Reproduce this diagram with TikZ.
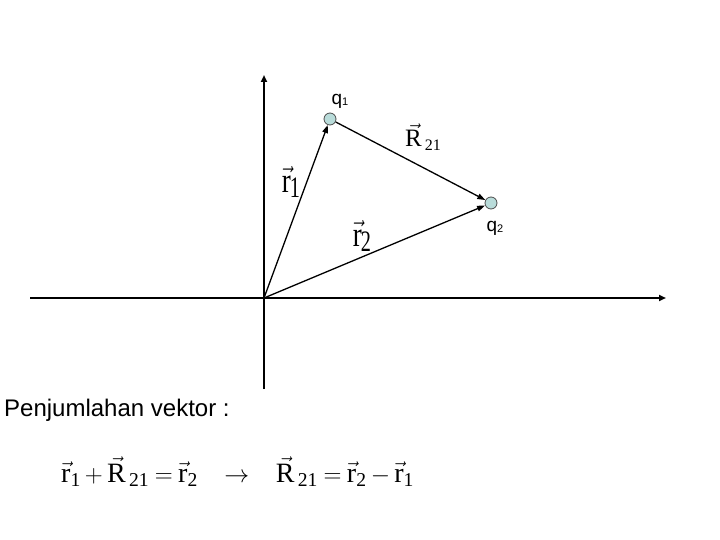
\documentclass[tikz,border=0pt]{standalone}
\usepackage{fontspec}
\setmainfont{Liberation Serif}
\newfontfamily\arialf{Liberation Sans}
\usetikzlibrary{arrows.meta}
\definecolor{chg}{HTML}{B9DCDA}
\begin{document}
\begin{tikzpicture}[x=1pt,y=-1pt,
  axis/.style={line width=2.2pt,-{Triangle[length=7pt,width=6pt]}},
  vecl/.style={line width=1.3pt,-{Triangle[length=8pt,width=5.5pt]}},
  charge/.style={circle,draw=black!70,fill=chg,line width=0.8pt,minimum size=12pt,inner sep=0pt},
  qlab/.style={font=\arialf\fontsize{19}{19}\selectfont,inner sep=0pt},
  vlab/.style={inner sep=0pt,font=\fontsize{27}{27}\selectfont}]
\useasboundingbox (0,0) rectangle (720,540);
\coordinate (O) at (264,298);
\coordinate (xl) at (30,298);
\coordinate (xr) at (666,298);
\coordinate (yb) at (264,389);
\coordinate (yt) at (264,75);
\draw[axis] (xl) -- (xr);
\draw[axis] (yb) -- (yt);
\node[charge] (q1) at (330,119) {};
\node[charge] (q2) at (491,203) {};
\draw[vecl] (O) -- (q1);
\draw[vecl] (O) -- (q2);
\draw[vecl] (q1) -- (q2);
\node[qlab] (lq1) at (340,101) {q\raisebox{-0.1ex}{\fontsize{11}{11}\selectfont 1}};
\node[qlab] (lq2) at (495,228) {q\raisebox{-0.1ex}{\fontsize{11}{11}\selectfont 2}};
\node[vlab] (lr1) at (291,182) {\scalebox{1}[1.3]{$\vec{\mathrm{r}}$}\hspace{-1pt}\raisebox{-5pt}{\scalebox{0.75}[1.1]{1}}};
\node[vlab] (lr2) at (362,236) {\scalebox{1}[1.3]{$\vec{\mathrm{r}}$}\hspace{-1pt}\raisebox{-5pt}{\scalebox{0.75}[1.1]{2}}};
\node[vlab] (lR) at (423,137) {\fontsize{25}{25}\selectfont$\vec{\mathrm{R}}$\hspace{3pt}\raisebox{-4pt}{\fontsize{16}{16}\selectfont 21}};
\node[anchor=west,inner sep=0pt,font=\arialf\fontsize{24}{24}\selectfont] (pj) at (4,410) {Penjumlahan vektor :};
\node[anchor=west,inner sep=0pt,font=\fontsize{28}{28}\selectfont] (eq) at (61,472)
  {\medmuskip=3mu\thickmuskip=4mu$\vec{\mathrm{r}}_{\mathrm{1}} + \vec{\mathrm{R}}_{\,\mathrm{21}} = \vec{\mathrm{r}}_{\mathrm{2}} \hspace{21pt}\rightarrow\hspace{21pt} \vec{\mathrm{R}}_{\,\mathrm{21}} = \vec{\mathrm{r}}_{\mathrm{2}} - \vec{\mathrm{r}}_{\mathrm{1}}$};
\end{tikzpicture}
\end{document}
